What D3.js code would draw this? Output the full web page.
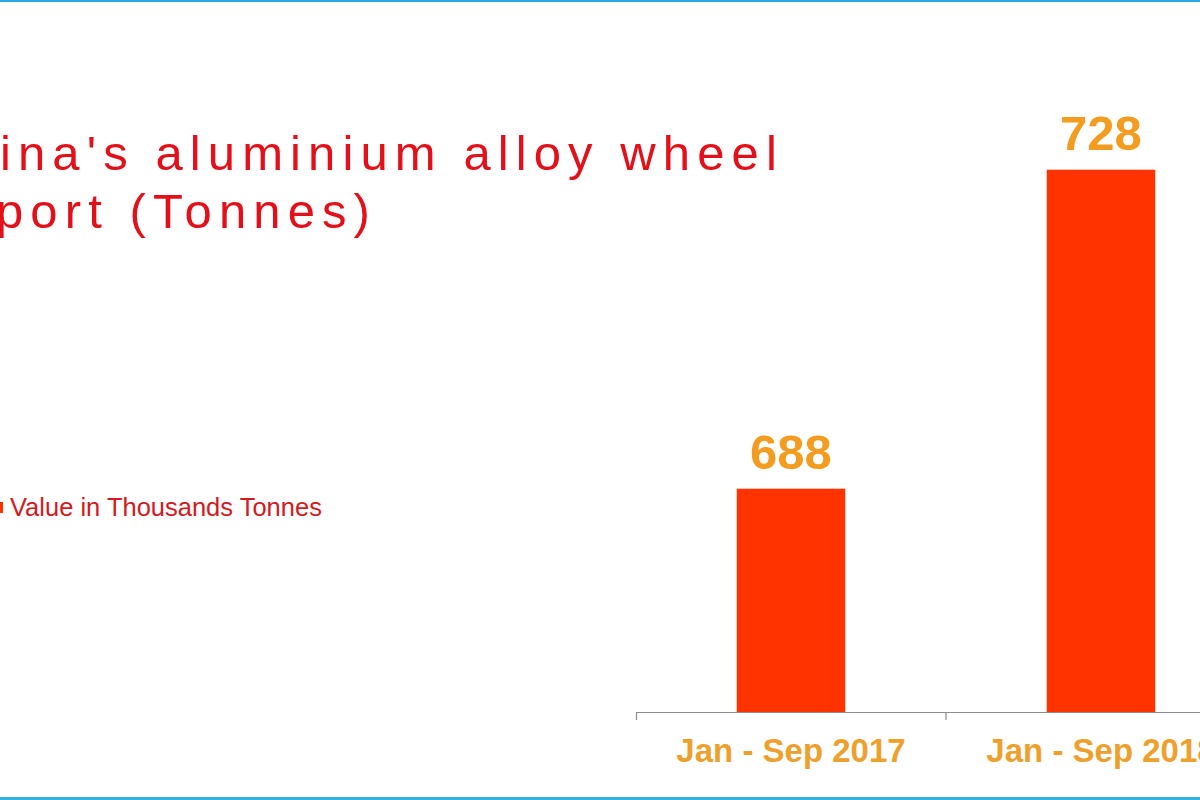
<!DOCTYPE html>
<html>
<head>
<meta charset="utf-8">
<script src="https://cdn.jsdelivr.net/npm/d3@7"></script>
<style>
  html, body { margin: 0; padding: 0; background: #fff; }
  svg { display: block; font-family: "Liberation Sans", Arial, sans-serif; }
</style>
</head>
<body>
<svg id="chart"></svg>
<script>
// chart data
const categories = ['Jan - Sep 2017', 'Jan - Sep 2018'];
const values = [688, 728];
const titleLines = ["China's aluminium alloy wheel", 'export (Tonnes)'];
const legendLabel = 'Value in Thousands Tonnes';

const width = 1200;
const height = 800;
const baseY = 712;

const svg = d3.select('#chart')
  .attr('width', width)
  .attr('height', height);

svg.append('rect')
  .attr('width', width)
  .attr('height', height)
  .attr('fill', '#fff');

// top / bottom blue frame
svg.append('rect')
  .attr('x', 0).attr('y', 0)
  .attr('width', width).attr('height', 2)
  .attr('fill', '#2aa8e0');
svg.append('rect')
  .attr('x', 0).attr('y', 797)
  .attr('width', width).attr('height', 3)
  .attr('fill', '#35b0e2');

const x = d3.scaleBand()
  .domain(categories)
  .range([636, 1256])
  .paddingInner(0.65)
  .paddingOuter(0.325);

const y = d3.scaleLinear()
  .domain([660, 740])
  .range([baseY, baseY - 80 * 7.975]);

// bars
svg.append('g')
  .selectAll('rect')
  .data(values)
  .join('rect')
  .attr('x', (d, i) => x(categories[i]))
  .attr('y', d => y(d))
  .attr('width', x.bandwidth())
  .attr('height', d => baseY - y(d))
  .attr('fill', '#ff3300');

// value labels
svg.append('g')
  .selectAll('text')
  .data(values)
  .join('text')
  .attr('x', (d, i) => x(categories[i]) + x.bandwidth() / 2)
  .attr('y', d => y(d) - 20)
  .attr('text-anchor', 'middle')
  .attr('font-size', 49)
  .attr('font-weight', 'bold')
  .attr('fill', '#f39c1f')
  .text(d => d);

// category axis
const axis = svg.append('g')
  .attr('transform', `translate(0,${baseY})`)
  .call(d3.axisBottom(x).tickSize(0).tickSizeOuter(8).tickPadding(27));

axis.select('.domain').attr('stroke', '#8c8c8c').attr('stroke-width', 1.2);
axis.selectAll('.tick text')
  .attr('font-size', 33)
  .attr('font-weight', 'bold')
  .attr('fill', '#eea02d')
  .attr('font-family', '"Liberation Sans", Arial, sans-serif');

// tick marks between categories
axis.append('g')
  .selectAll('line')
  .data(categories.slice(1))
  .join('line')
  .attr('x1', d => x(d) - x.step() * x.paddingInner() / 2)
  .attr('x2', d => x(d) - x.step() * x.paddingInner() / 2)
  .attr('y1', 0)
  .attr('y2', 8)
  .attr('stroke', '#8c8c8c')
  .attr('stroke-width', 1.2);

// title, cropped at the left edge
const title = svg.append('g')
  .selectAll('text')
  .data(titleLines)
  .join('text')
  .attr('x', 0)
  .attr('y', (d, i) => 170 + i * 58)
  .attr('font-size', 49)
  .attr('letter-spacing', '7.1px')
  .attr('fill', '#e3101a')
  .text(d => d);

const titleStart = [0, -4];
title.each(function (d, i) {
  const off = this.getStartPositionOfChar(2).x;
  d3.select(this).attr('x', titleStart[i] - off);
});

// legend
svg.append('rect')
  .attr('x', -8).attr('y', 502)
  .attr('width', 11).attr('height', 11)
  .attr('fill', '#ff3300');

svg.append('text')
  .attr('x', 10)
  .attr('y', 516)
  .attr('font-size', 25.5)
  .attr('fill', '#d41920')
  .text(legendLabel);
</script>
</body>
</html>
